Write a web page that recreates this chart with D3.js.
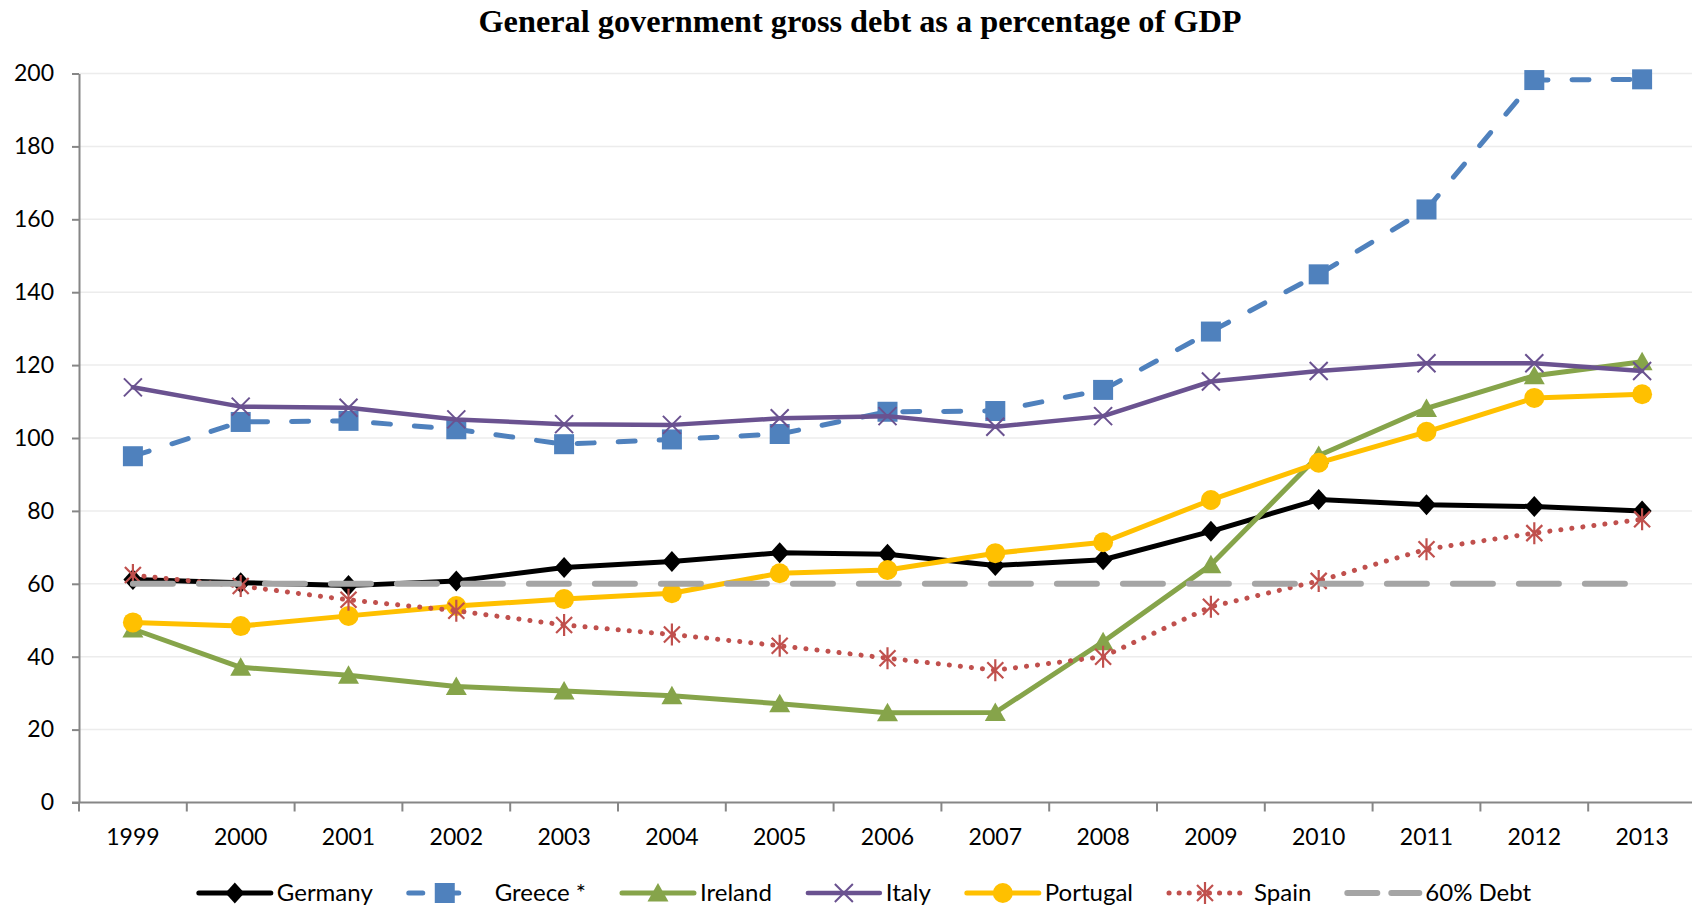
<!DOCTYPE html>
<html>
<head>
<meta charset="utf-8">
<script src="https://cdn.jsdelivr.net/npm/d3@7/dist/d3.min.js"></script>
<style>
  html, body { margin: 0; padding: 0; background: #fff; }
  svg { display: block; }
</style>
</head>
<body>
<svg id="chart" width="1692" height="908"></svg>
<script>
// General government gross debt (% of GDP), 1999-2013
const years = ["1999","2000","2001","2002","2003","2004","2005","2006","2007","2008","2009","2010","2011","2012","2013"];
const germany  = [61.2, 60.3, 59.5, 60.8, 64.5, 66.1, 68.5, 68.1, 65.0, 66.6, 74.4, 83.1, 81.7, 81.2, 80.0];
const greece   = [95.0, 104.4, 104.7, 102.4, 98.3, 99.6, 101.1, 107.2, 107.4, 113.2, 129.2, 144.9, 162.7, 198.2, 198.4];
const ireland  = [47.6, 37.1, 34.9, 31.8, 30.6, 29.3, 27.1, 24.6, 24.7, 44.1, 65.2, 95.2, 108.1, 117.1, 120.9];
const italy    = [113.9, 108.6, 108.3, 105.1, 103.8, 103.6, 105.4, 106.0, 103.1, 106.0, 115.5, 118.4, 120.5, 120.5, 118.4];
const portugal = [49.4, 48.4, 51.2, 53.9, 55.8, 57.4, 62.9, 63.8, 68.4, 71.4, 83.0, 93.2, 101.7, 111.0, 112.0];
const spain    = [62.4, 59.4, 55.6, 52.6, 48.7, 46.1, 43.0, 39.6, 36.3, 40.0, 53.7, 60.8, 69.5, 73.9, 77.7];
const debt60   = [60, 60, 60, 60, 60, 60, 60, 60, 60, 60, 60, 60, 60, 60, 60];
const yTicks = [0, 20, 40, 60, 80, 100, 120, 140, 160, 180, 200];
const seriesNames = ["Germany", "Greece *", "Ireland", "Italy", "Portugal", "Spain", "60% Debt"];
const title = "General government gross debt as a percentage of GDP";

// Line and marker styling per series
const styles = [
  { color: "#000000", width: 5,   dash: null,      legendDash: null,      marker: "diamond",  textGap: 6 },
  { color: "#4F81BD", width: 5,   dash: "17,24",   legendDash: "14,22",   marker: "square",   textGap: 14 },
  { color: "#86A44A", width: 5,   dash: null,      legendDash: null,      marker: "triangle", textGap: 6 },
  { color: "#6A5290", width: 4.5, dash: null,      legendDash: null,      marker: "x",        textGap: 6 },
  { color: "#FFC000", width: 5,   dash: null,      legendDash: null,      marker: "circle",   textGap: 6 },
  { color: "#C0504D", width: 5,   dash: "0.1,11",  legendDash: "0.1,10",  marker: "star",     textGap: 13 },
  { color: "#A5A5A5", width: 6,   dash: "40,26",   legendDash: "30,14",   marker: null,       textGap: 6 }
];
const seriesData = [germany, greece, ireland, italy, portugal, spain, debt60];

const font = "Lato, 'Open Sans', sans-serif";
const svg = d3.select("#chart");
svg.append("rect").attr("width", 1692).attr("height", 908).attr("fill", "#fff");

const plotLeft = 79, plotRight = 1696, plotTop = 73.5, plotBottom = 802.5;
const x = d3.scaleBand().domain(years).range([plotLeft, plotRight]);
const y = d3.scaleLinear().domain([0, 200]).range([plotBottom, plotTop]);

// Title
svg.append("text")
  .attr("x", 860).attr("y", 32)
  .attr("text-anchor", "middle")
  .attr("font-family", "'Liberation Serif', 'Times New Roman', serif")
  .attr("font-weight", "bold")
  .attr("font-size", 32.3)
  .text(title);

// Horizontal gridlines
svg.append("g")
  .selectAll("line")
  .data(yTicks.filter(d => d > 0))
  .join("line")
  .attr("x1", plotLeft).attr("x2", plotRight)
  .attr("y1", d => y(d)).attr("y2", d => y(d))
  .attr("stroke", "#ECECEC").attr("stroke-width", 1.5);

// Y axis
const yAxis = svg.append("g")
  .attr("transform", `translate(${plotLeft},0)`)
  .call(d3.axisLeft(y).tickValues(yTicks).tickSize(7).tickPadding(18).tickSizeOuter(0));
yAxis.select(".domain").attr("stroke", "#868686").attr("stroke-width", 2);
yAxis.selectAll(".tick line").attr("stroke", "#868686").attr("stroke-width", 2);
yAxis.selectAll(".tick text").attr("font-family", font).attr("font-size", 23).attr("fill", "#000");

// X axis: labels centred in each band, tick marks on band boundaries
const xAxis = svg.append("g")
  .attr("transform", `translate(0,${plotBottom})`)
  .call(d3.axisBottom(x).tickSize(0).tickPadding(26).tickSizeOuter(0));
xAxis.select(".domain").attr("stroke", "#868686").attr("stroke-width", 2)
  .attr("d", `M${plotLeft - 7},0H${plotRight}`);
xAxis.selectAll(".tick text").attr("font-family", font).attr("font-size", 23).attr("fill", "#000");
const boundaries = years.map(d => x(d)).concat([x(years[years.length - 1]) + x.bandwidth()]);
xAxis.append("g").selectAll("line")
  .data(boundaries)
  .join("line")
  .attr("x1", d => d).attr("x2", d => d)
  .attr("y1", 0).attr("y2", 9)
  .attr("stroke", "#868686").attr("stroke-width", 2);

// Marker shapes
function drawMarker(g, type, color) {
  if (type === "diamond") {
    g.append("path").attr("d", "M0,-10.5L9.5,0L0,10.5L-9.5,0Z").attr("fill", color);
  } else if (type === "square") {
    g.append("rect").attr("x", -10).attr("y", -10).attr("width", 20).attr("height", 20).attr("fill", color);
  } else if (type === "triangle") {
    g.append("path").attr("d", "M0,-10L10.5,8.5L-10.5,8.5Z").attr("fill", color);
  } else if (type === "circle") {
    g.append("circle").attr("r", 10).attr("fill", color);
  } else if (type === "x") {
    g.append("path").attr("d", "M-9,-9L9,9M-9,9L9,-9")
      .attr("stroke", color).attr("stroke-width", 2).attr("fill", "none");
  } else if (type === "star") {
    g.append("path").attr("d", "M-8,-8L8,8M-8,8L8,-8M0,-11L0,11")
      .attr("stroke", color).attr("stroke-width", 2.2).attr("fill", "none");
  }
}

const cx = d => x(d) + x.bandwidth() / 2;
const line = d3.line().x((d, i) => cx(years[i])).y(d => y(d));

// Series lines with markers
seriesData.forEach((vals, si) => {
  const st = styles[si];
  const g = svg.append("g").attr("class", "series");
  g.append("path")
    .datum(vals)
    .attr("d", line)
    .attr("fill", "none")
    .attr("stroke", st.color)
    .attr("stroke-width", st.width)
    .attr("stroke-linejoin", "round")
    .attr("stroke-linecap", "round")
    .attr("stroke-dasharray", st.dash);
  if (st.marker) {
    vals.forEach((v, i) => {
      const mg = g.append("g").attr("transform", `translate(${cx(years[i])},${y(v)})`);
      drawMarker(mg, st.marker, st.color);
    });
  }
});

// Legend
const legend = svg.append("g");
const legendY = 893;
const items = [];
seriesNames.forEach((name, si) => {
  const st = styles[si];
  const g = legend.append("g");
  g.append("line")
    .attr("x1", 0).attr("x2", 72)
    .attr("y1", 0).attr("y2", 0)
    .attr("stroke", st.color).attr("stroke-width", st.width)
    .attr("stroke-linecap", "round")
    .attr("stroke-dasharray", st.legendDash);
  if (st.marker) {
    const mg = g.append("g").attr("transform", "translate(36,0)");
    drawMarker(mg, st.marker, st.color);
  }
  const tx = 72 + st.textGap;
  const t = g.append("text")
    .attr("x", tx).attr("y", 0).attr("dy", "0.35em")
    .attr("font-family", font).attr("font-size", 24).attr("fill", "#000")
    .text(name);
  items.push({ g, w: tx + t.node().getComputedTextLength() });
});
const gap = 36;
const total = d3.sum(items, d => d.w) + gap * (items.length - 1);
let lx = 865 - total / 2;
items.forEach(it => {
  it.g.attr("transform", `translate(${lx},${legendY})`);
  lx += it.w + gap;
});
</script>
</body>
</html>
